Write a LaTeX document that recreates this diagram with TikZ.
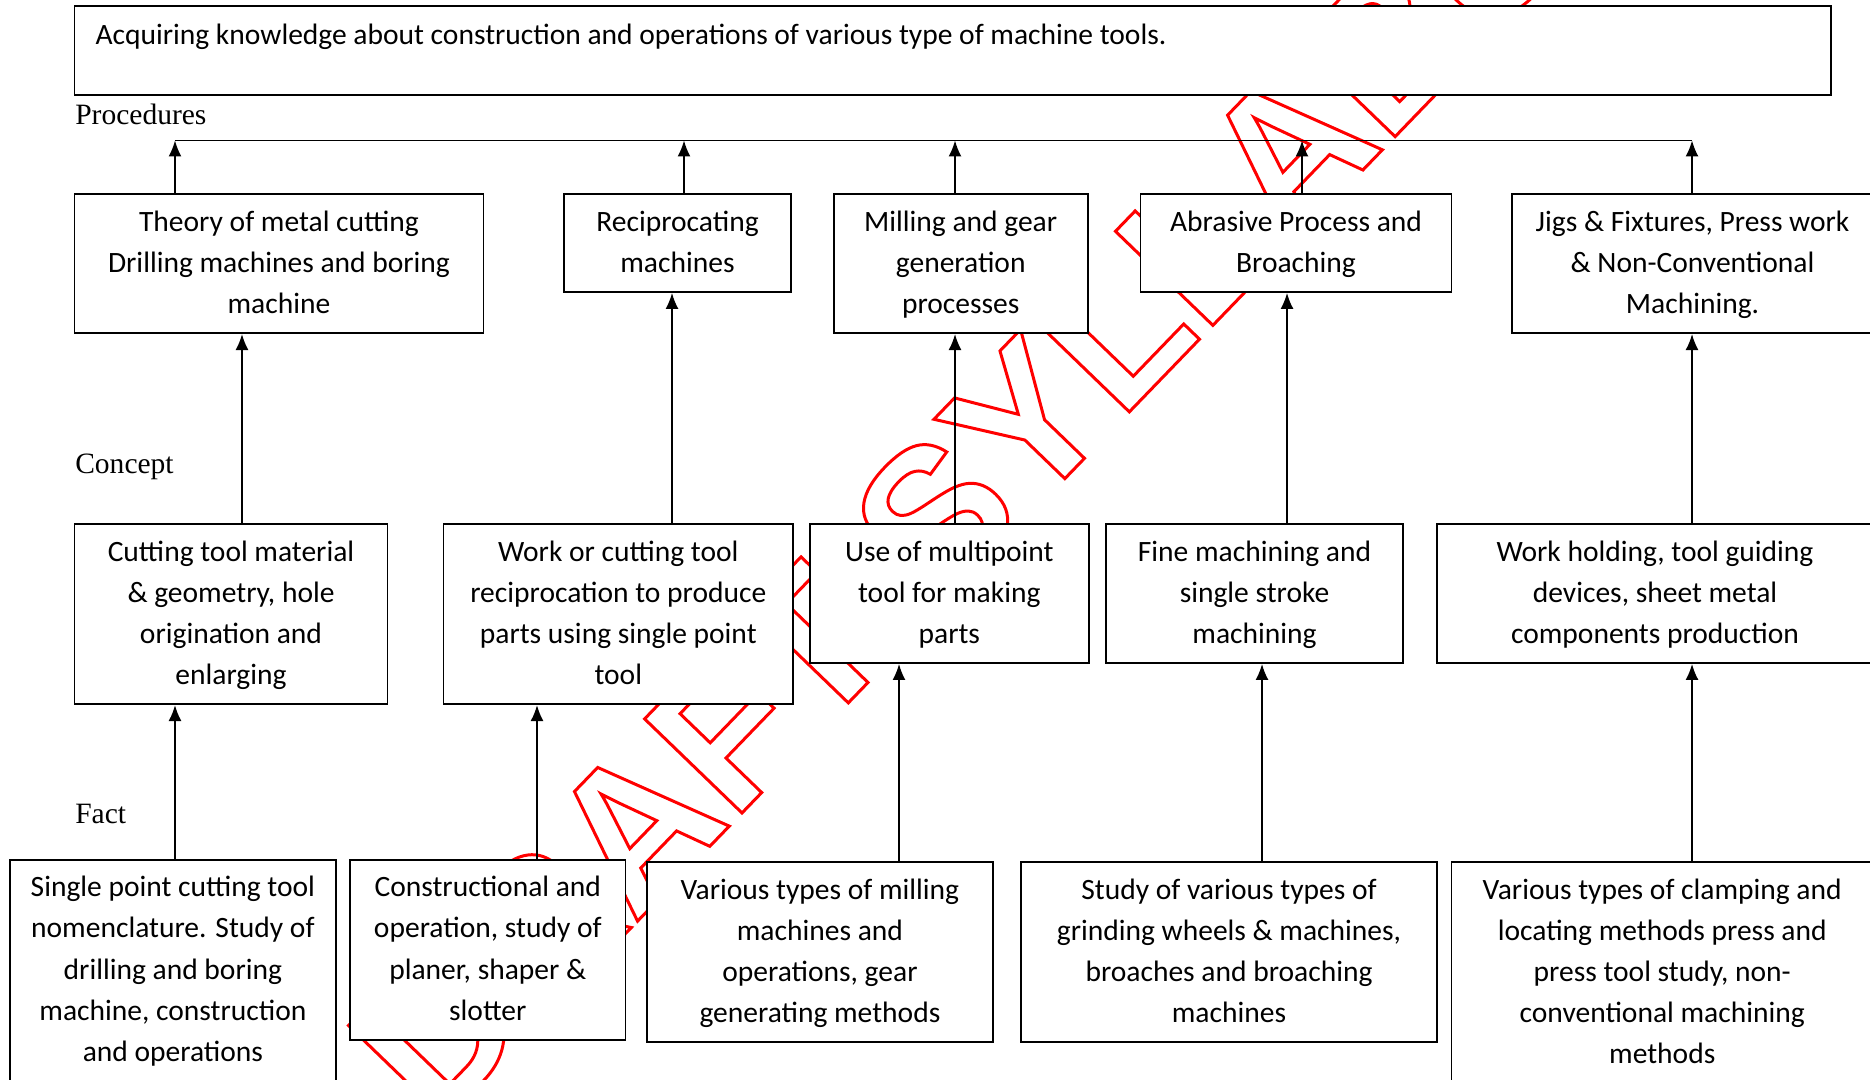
\documentclass[tikz,border=0pt]{standalone}
\usepackage{fontspec}
\setmainfont{Carlito}
\newfontfamily\labelfont{Liberation Serif}
\newfontfamily\stampfont{Liberation Sans}
\usetikzlibrary{arrows.meta}

\tikzset{
  box/.style={draw,line width=0.5pt,fill=white,align=flush center,inner sep=0pt,anchor=north,
    execute at begin node=\rule{0pt}{10.5pt},
    execute at end node=\rule[-5.6pt]{0pt}{0pt}},
  level/.style={anchor=west,inner sep=0pt,font=\labelfont\fontsize{8.4}{10}\selectfont},
  stamp/.style={rotate=46,inner sep=0pt,text=red,font=\stampfont\bfseries\fontsize{56}{56}\selectfont},
}

\begin{document}
\begin{tikzpicture}[x=0.1mm,y=-0.1mm,->,>={Latex[length=1.6mm,width=1.3mm]},line width=0.45pt,font=\fontsize{8.4}{11.7}\selectfont]

\useasboundingbox (0,0) rectangle (1870,1079);

% watermark, behind everything
\node[stamp] (stamp) at (1007,441)
  {\special{pdf:literal direct 1 Tr 0.85 w}DRAFT SYLLABUS\special{pdf:literal direct 0 Tr}};

% goal
\node[draw,line width=0.5pt,fill=white,inner sep=0pt,minimum width=175.65mm,minimum height=8.9mm,
      text width=171.45mm,align=flush left,text height=6pt,text depth=9.2pt] (goal) at (952.75,50.5)
  {Acquiring knowledge about construction and operations of various type of machine tools.};

\node[level] (proc) at (74.5,114) {Procedures};
\node[level] (conc) at (74.5,467) {Concept};
\node[level] (fact) at (74.5,814) {Fact};

% procedures
\node[box,text width=40.9mm] (A) at (279,193.5)
  {Theory of metal cutting\\Drilling machines and boring\\machine};
\node[box,text width=22.7mm] (B) at (677.5,193.5)
  {Reciprocating\\machines};
\node[box,text width=25.4mm] (C) at (960.7,193.5)
  {Milling and gear\\generation\\processes};
\node[box,text width=31.1mm] (D) at (1296,193.5)
  {Abrasive Process and\\Broaching};
\node[box,text width=36.1mm] (E) at (1692.5,193.5)
  {Jigs \& Fixtures, Press work\\\& Non-Conventional\\Machining.};

% concepts
\node[box,text width=31.3mm] (F) at (231,523.4)
  {Cutting tool material\\\& geometry, hole\\origination and\\enlarging};
\node[box,text width=34.94mm] (G) at (618.3,523.4)
  {Work or cutting tool\\reciprocation to produce\\parts using single point\\tool};
\node[box,text width=27.9mm] (H) at (949.3,523.4)
  {Use of multipoint\\tool for making\\parts};
\node[box,text width=29.7mm] (I) at (1254.5,523.4)
  {Fine machining and\\single stroke\\machining};
\node[box,text width=43.6mm] (J) at (1655,523.4)
  {Work holding, tool guiding\\devices, sheet metal\\components production};

% facts
\node[box,text width=32.57mm] (K) at (172.9,859)
  {Single point cutting tool\\nomenclature. Study of\\drilling and boring\\machine, construction\\and operations};
\node[box,text width=27.55mm] (L) at (487.8,859)
  {Constructional and\\operation, study of\\planer, shaper \&\\slotter};
\node[box,text width=34.58mm] (M) at (819.9,861.4)
  {Various types of milling\\machines and\\operations, gear\\generating methods};
\node[box,text width=41.6mm] (N) at (1229,861.4)
  {Study of various types of\\grinding wheels \& machines,\\broaches and broaching\\machines};
\node[box,text width=42.16mm] (O) at (1662.2,861.4)
  {Various types of clamping and\\locating methods press and\\press tool study, non-\\conventional machining\\methods};

\coordinate (bus) at (0,140.5);

\path [draw,-] (175,0 |- bus) -- (1692,0 |- bus);

\foreach \s/\x in {A/175,B/684,C/955,D/1302,E/1692}
  \draw (\x,0 |- \s.north) -- (\x,0 |- bus);

\foreach \s/\t/\x in {F/A/242,G/B/672,H/C/955,I/D/1287,J/E/1692,
                      K/F/175,L/G/537,M/H/899,N/I/1262,O/J/1692}
  \draw (\x,0 |- \s.north) -- (\x,0 |- \t.south);

\end{tikzpicture}
\end{document}
